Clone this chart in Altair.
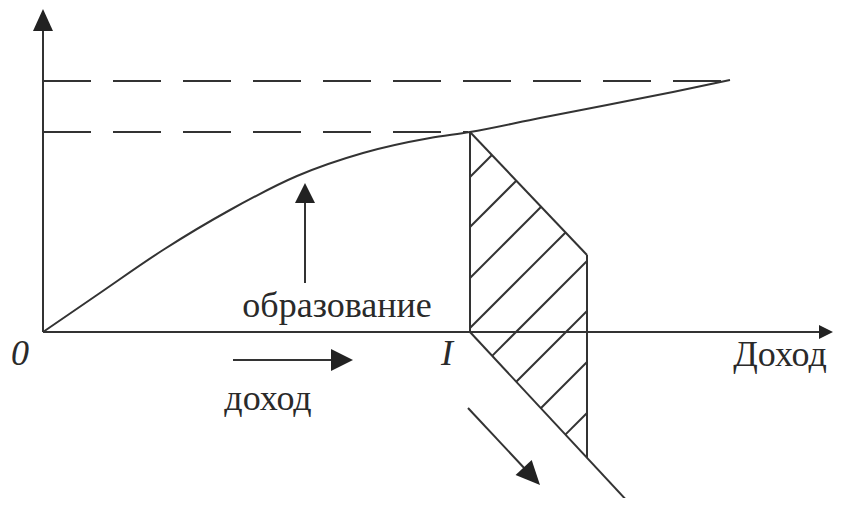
import altair as alt
import pandas as pd

# ---- diagram data (units: origin at "0", x to the right, y up) ----
# growth curve "образование"
curve_x = [0, 54, 120, 187, 254, 320, 387, 427, 497, 564, 630, 687]
curve_y = [0, 37, 82, 122, 156, 179, 194, 200, 214, 227, 240, 252]

# hatched region vertices (A top, B right-upper, C right-lower, D on axis at I)
poly_x = [427, 544, 544, 427]
poly_y = [200, 77, -126, 0]
# hatch line offsets (lines y = (x - 427) + k)
hatch_k = [155, 105, 54, 4, -46, -96, -147, -198]

# solid segments: axes, polygon edges, arrow shafts
seg_x1 = [0, 0, 427, 427, 544, 427, 190, 262, 425]
seg_y1 = [0, 0, 200, 200, 77, 0, -28, 49, -76]
seg_x2 = [0, 783, 544, 427, 544, 600, 296, 262, 483]
seg_y2 = [312, 0, 77, 0, -126, -186, -28, 136, -138]

# dashed guide lines
dash_x1 = [0, 0]
dash_y1 = [251, 200]
dash_x2 = [685, 425]
dash_y2 = [251, 200]

# arrow heads: tip position, direction (deg, clockwise from up), length, half-width
head_x = [0, 790, 310, 262, 497]
head_y = [323, 0, -28, 149, -153]
head_angle = [0, 90, 90, 0, 137]
head_len = [22, 14, 22, 20, 24]
head_hw = [10, 7, 11, 10, 11]

# labels
lab_text = ["образование", "доход", "Доход"]
lab_x = [294, 225, 737]
lab_y = [15, -78, -34]
ital_text = ["0", "I"]
ital_x = [-23, 404]
ital_y = [-33, -33]

# ---- build tables ----
def clip_hatch(k):
    pts = []
    n = len(poly_x)
    f = lambda X, Y: Y - (X - 427) - k
    for i in range(n):
        px, py = poly_x[i], poly_y[i]
        qx, qy = poly_x[(i + 1) % n], poly_y[(i + 1) % n]
        fp, fq = f(px, py), f(qx, qy)
        if fp == fq:
            continue
        t = fp / (fp - fq)
        if 0 <= t <= 1:
            pts.append((px + t * (qx - px), py + t * (qy - py)))
    pts.sort()
    return pts[0], pts[-1]

hx1, hy1, hx2, hy2 = [], [], [], []
for k in hatch_k:
    (a, b), (c, d) = clip_hatch(k)
    hx1.append(a); hy1.append(b); hx2.append(c); hy2.append(d)

seg_df = pd.DataFrame({"x": seg_x1 + hx1, "y": seg_y1 + hy1,
                       "x2": seg_x2 + hx2, "y2": seg_y2 + hy2})
dash_df = pd.DataFrame({"x": dash_x1, "y": dash_y1, "x2": dash_x2, "y2": dash_y2})
curve_df = pd.DataFrame({"x": curve_x, "y": curve_y})
head_df = pd.DataFrame({
    "x": head_x, "y": head_y, "angle": head_angle,
    "size": [L * L for L in head_len],
    "shape": [f"M0,0L{hw / (L / 2):.3f},2L-{hw / (L / 2):.3f},2Z" for L, hw in zip(head_len, head_hw)],
})
lab_df = pd.DataFrame({"t": lab_text, "x": lab_x, "y": lab_y})
ital_df = pd.DataFrame({"t": ital_text, "x": ital_x, "y": ital_y})

W, H = 826, 490
xs = alt.Scale(domain=[-35, 791], nice=False, zero=False)
ys = alt.Scale(domain=[-166, 324], nice=False, zero=False)
X = lambda f="x": alt.X(f"{f}:Q", scale=xs, axis=None)
Y = lambda f="y": alt.Y(f"{f}:Q", scale=ys, axis=None)

ink = "#333333"

segs = alt.Chart(seg_df).mark_rule(color=ink, strokeWidth=2).encode(
    x=X(), y=Y(), x2="x2:Q", y2="y2:Q")
dashes = alt.Chart(dash_df).mark_rule(color=ink, strokeWidth=2, strokeDash=[48, 22]).encode(
    x=X(), y=Y(), x2="x2:Q", y2="y2:Q")
curve = alt.Chart(curve_df).mark_line(color=ink, strokeWidth=2, interpolate="monotone").encode(
    x=X(), y=Y(), order="x:Q")
heads = alt.Chart(head_df).mark_point(filled=True, color="#222222", opacity=1, strokeWidth=0).encode(
    x=X(), y=Y(),
    shape=alt.Shape("shape:N", scale=None),
    size=alt.Size("size:Q", scale=None),
    angle=alt.Angle("angle:Q", scale=None))
labels = alt.Chart(lab_df).mark_text(font="Liberation Serif", fontSize=36, color="#2a2a2a",
                                     align="center", baseline="alphabetic").encode(
    x=X(), y=Y(), text="t:N")
ital = alt.Chart(ital_df).mark_text(font="Liberation Serif", fontSize=36, fontStyle="italic",
                                    color="#2a2a2a", align="center", baseline="alphabetic").encode(
    x=X(), y=Y(), text="t:N")

chart = alt.layer(dashes, curve, segs, heads, labels, ital).properties(
    width=W, height=H, padding=0, autosize=alt.AutoSizeParams(type="none"),
    background="white",
).configure_view(stroke=None)

chart.save("out.html", embed_options={"renderer": "svg", "actions": False})
